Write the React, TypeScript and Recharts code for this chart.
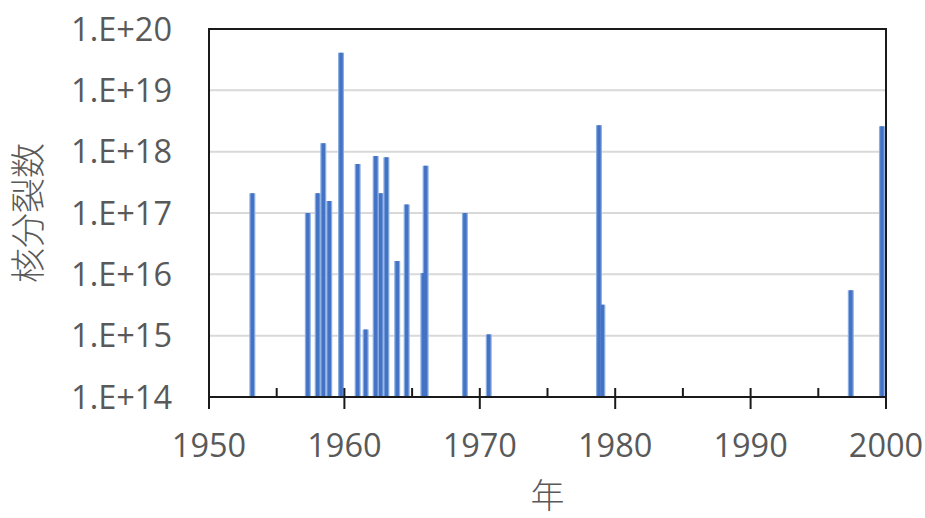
import React from 'react';
import {
  ScatterChart,
  Scatter,
  XAxis,
  YAxis,
  CartesianGrid,
  ErrorBar,
  ReferenceArea,
} from 'recharts';

// Test dates (decimal years) and number of fissions
const years = [
  1953.2, 1957.3, 1958.03, 1958.44, 1958.88, 1959.75, 1960.98, 1961.57, 1962.31,
  1962.68, 1963.1, 1963.9, 1964.6, 1965.83, 1966.0, 1968.9, 1970.66, 1978.8,
  1979.05, 1997.4, 1999.7,
];
const fissions = [
  2.1e17, 1.0e17, 2.1e17, 1.37e18, 1.57e17, 4.1e19, 6.3e17, 1.26e15, 8.5e17,
  2.1e17, 8.1e17, 1.65e16, 1.38e17, 1.05e16, 5.9e17, 1.0e17, 1.05e15, 2.7e18,
  3.2e15, 5.5e15, 2.6e18,
];

const yMin = 1e14;
const yMax = 1e20;
const yTicks = [1e14, 1e15, 1e16, 1e17, 1e18, 1e19, 1e20];
const yTickLabels = ['1.E+14', '1.E+15', '1.E+16', '1.E+17', '1.E+18', '1.E+19', '1.E+20'];
const xTicks = [1950, 1955, 1960, 1965, 1970, 1975, 1980, 1985, 1990, 1995, 2000];
const xMajorTicks = [1950, 1960, 1970, 1980, 1990, 2000];

const data = years.map((y, i) => ({
  year: y,
  fissions: fissions[i],
  err: [fissions[i] - yMin, 0],
}));

const TEXT = '#595959';
const AXIS = '#1a1a1a';
const FONT = '"Open Sans", "Noto Sans", sans-serif';
const CJK = '"Noto Sans CJK JP", "Noto Sans CJK SC", sans-serif';

const XTick = (props: any) => {
  const { x, y, payload } = props;
  const major = xMajorTicks.includes(payload.value);
  return (
    <g>
      <line x1={x} x2={x} y1={y - 9} y2={major ? y + 12 : y} stroke={AXIS} strokeWidth={2} />
      {major && (
        <text x={x} y={y + 60} textAnchor="middle" fill={TEXT} fontSize={32.5} fontFamily={FONT}>
          {payload.value}
        </text>
      )}
    </g>
  );
};

const yFmt = (v: number) => {
  const idx = yTicks.findIndex((t) => Math.abs(Math.log10(t) - Math.log10(v)) < 1e-6);
  return idx >= 0 ? yTickLabels[idx] : '';
};

export default function App() {
  return (
    <div style={{ position: 'absolute', left: 0, top: 0, width: 925, height: 518, background: '#fff' }}>
      <ScatterChart width={925} height={518} margin={{ top: 29, right: 39, bottom: 0, left: 0 }}>
        <CartesianGrid horizontal vertical={false} stroke="#d9d9d9" strokeWidth={2} />
        <XAxis
          type="number"
          dataKey="year"
          domain={[1950, 2000]}
          ticks={xTicks}
          allowDataOverflow
          height={121}
          tickSize={0}
          tickMargin={0}
          tickLine={false}
          axisLine={{ stroke: AXIS, strokeWidth: 2 }}
          tick={<XTick />}
          interval={0}
          label={{ value: '年', position: 'insideBottom', offset: 10, fill: TEXT, fontSize: 34, fontFamily: CJK, fontWeight: 300 }}
        />
        <YAxis
          type="number"
          dataKey="fissions"
          scale="log"
          domain={[yMin, yMax]}
          ticks={yTicks}
          allowDataOverflow
          width={209}
          tickSize={0}
          tickMargin={37}
          tickLine={false}
          axisLine={{ stroke: AXIS, strokeWidth: 2 }}
          tickFormatter={yFmt}
          tick={{ fill: TEXT, fontSize: 32.5, fontFamily: FONT }}
          interval={0}
          label={{
            value: '核分裂数',
            angle: -90,
            position: 'insideLeft',
            offset: 29,
            textAnchor: 'middle',
            fill: TEXT,
            fontSize: 35,
            fontFamily: CJK,
            fontWeight: 300,
          }}
        />
        <Scatter data={data} isAnimationActive={false} shape={() => <g />}>
          <ErrorBar dataKey="err" direction="y" width={0} stroke="#8aaee2" strokeWidth={6} isAnimationActive={false} />
          <ErrorBar dataKey="err" direction="y" width={0} stroke="#4472C4" strokeWidth={3.5} isAnimationActive={false} />
        </Scatter>
        <ReferenceArea
          x1={1950}
          x2={2000}
          y1={yMin}
          y2={yMax}
          fill="none"
          fillOpacity={0}
          stroke={AXIS}
          strokeWidth={2}
          ifOverflow="visible"
        />
      </ScatterChart>
    </div>
  );
}
